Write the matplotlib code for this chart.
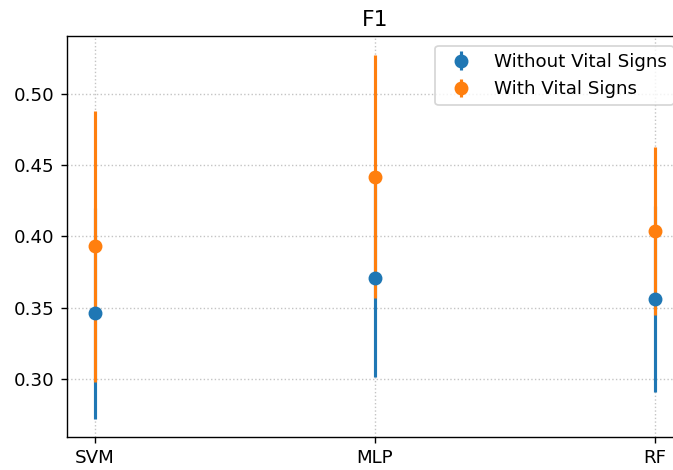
import matplotlib

matplotlib.use("Agg")
import matplotlib.pyplot as plt

# F1 scores per classifier: mean and half-width of the error bar
models = ["SVM", "MLP", "RF"]
f1_without = [0.346, 0.371, 0.356]
err_without = [0.074, 0.070, 0.0655]
f1_with = [0.393, 0.442, 0.404]
err_with = [0.095, 0.0855, 0.059]

DPI = 125
W, H = 673, 470

plt.rcParams["font.size"] = 10.5

fig = plt.figure(figsize=(W / DPI, H / DPI), dpi=DPI)
# axes run a little past the right edge, as in the cropped reference
ax = fig.add_axes([67 / W, 33 / H, 616 / W, 400.5 / H])

x = list(range(len(models)))
ax.errorbar(x, f1_without, yerr=err_without, fmt="o", markersize=7,
            elinewidth=1.8, color="#1f77b4", label="Without Vital Signs")
ax.errorbar(x, f1_with, yerr=err_with, fmt="o", markersize=7,
            elinewidth=1.8, color="#ff7f0e", label="With Vital Signs")

ax.set_xticks(x)
ax.set_xticklabels(models)
ax.set_yticks([0.30, 0.35, 0.40, 0.45, 0.50])
ax.set_title("F1")
ax.grid(True, linestyle=":", color="#c4c4c4")
ax.legend(loc="upper right")

fig.savefig("out.png", dpi=DPI)
